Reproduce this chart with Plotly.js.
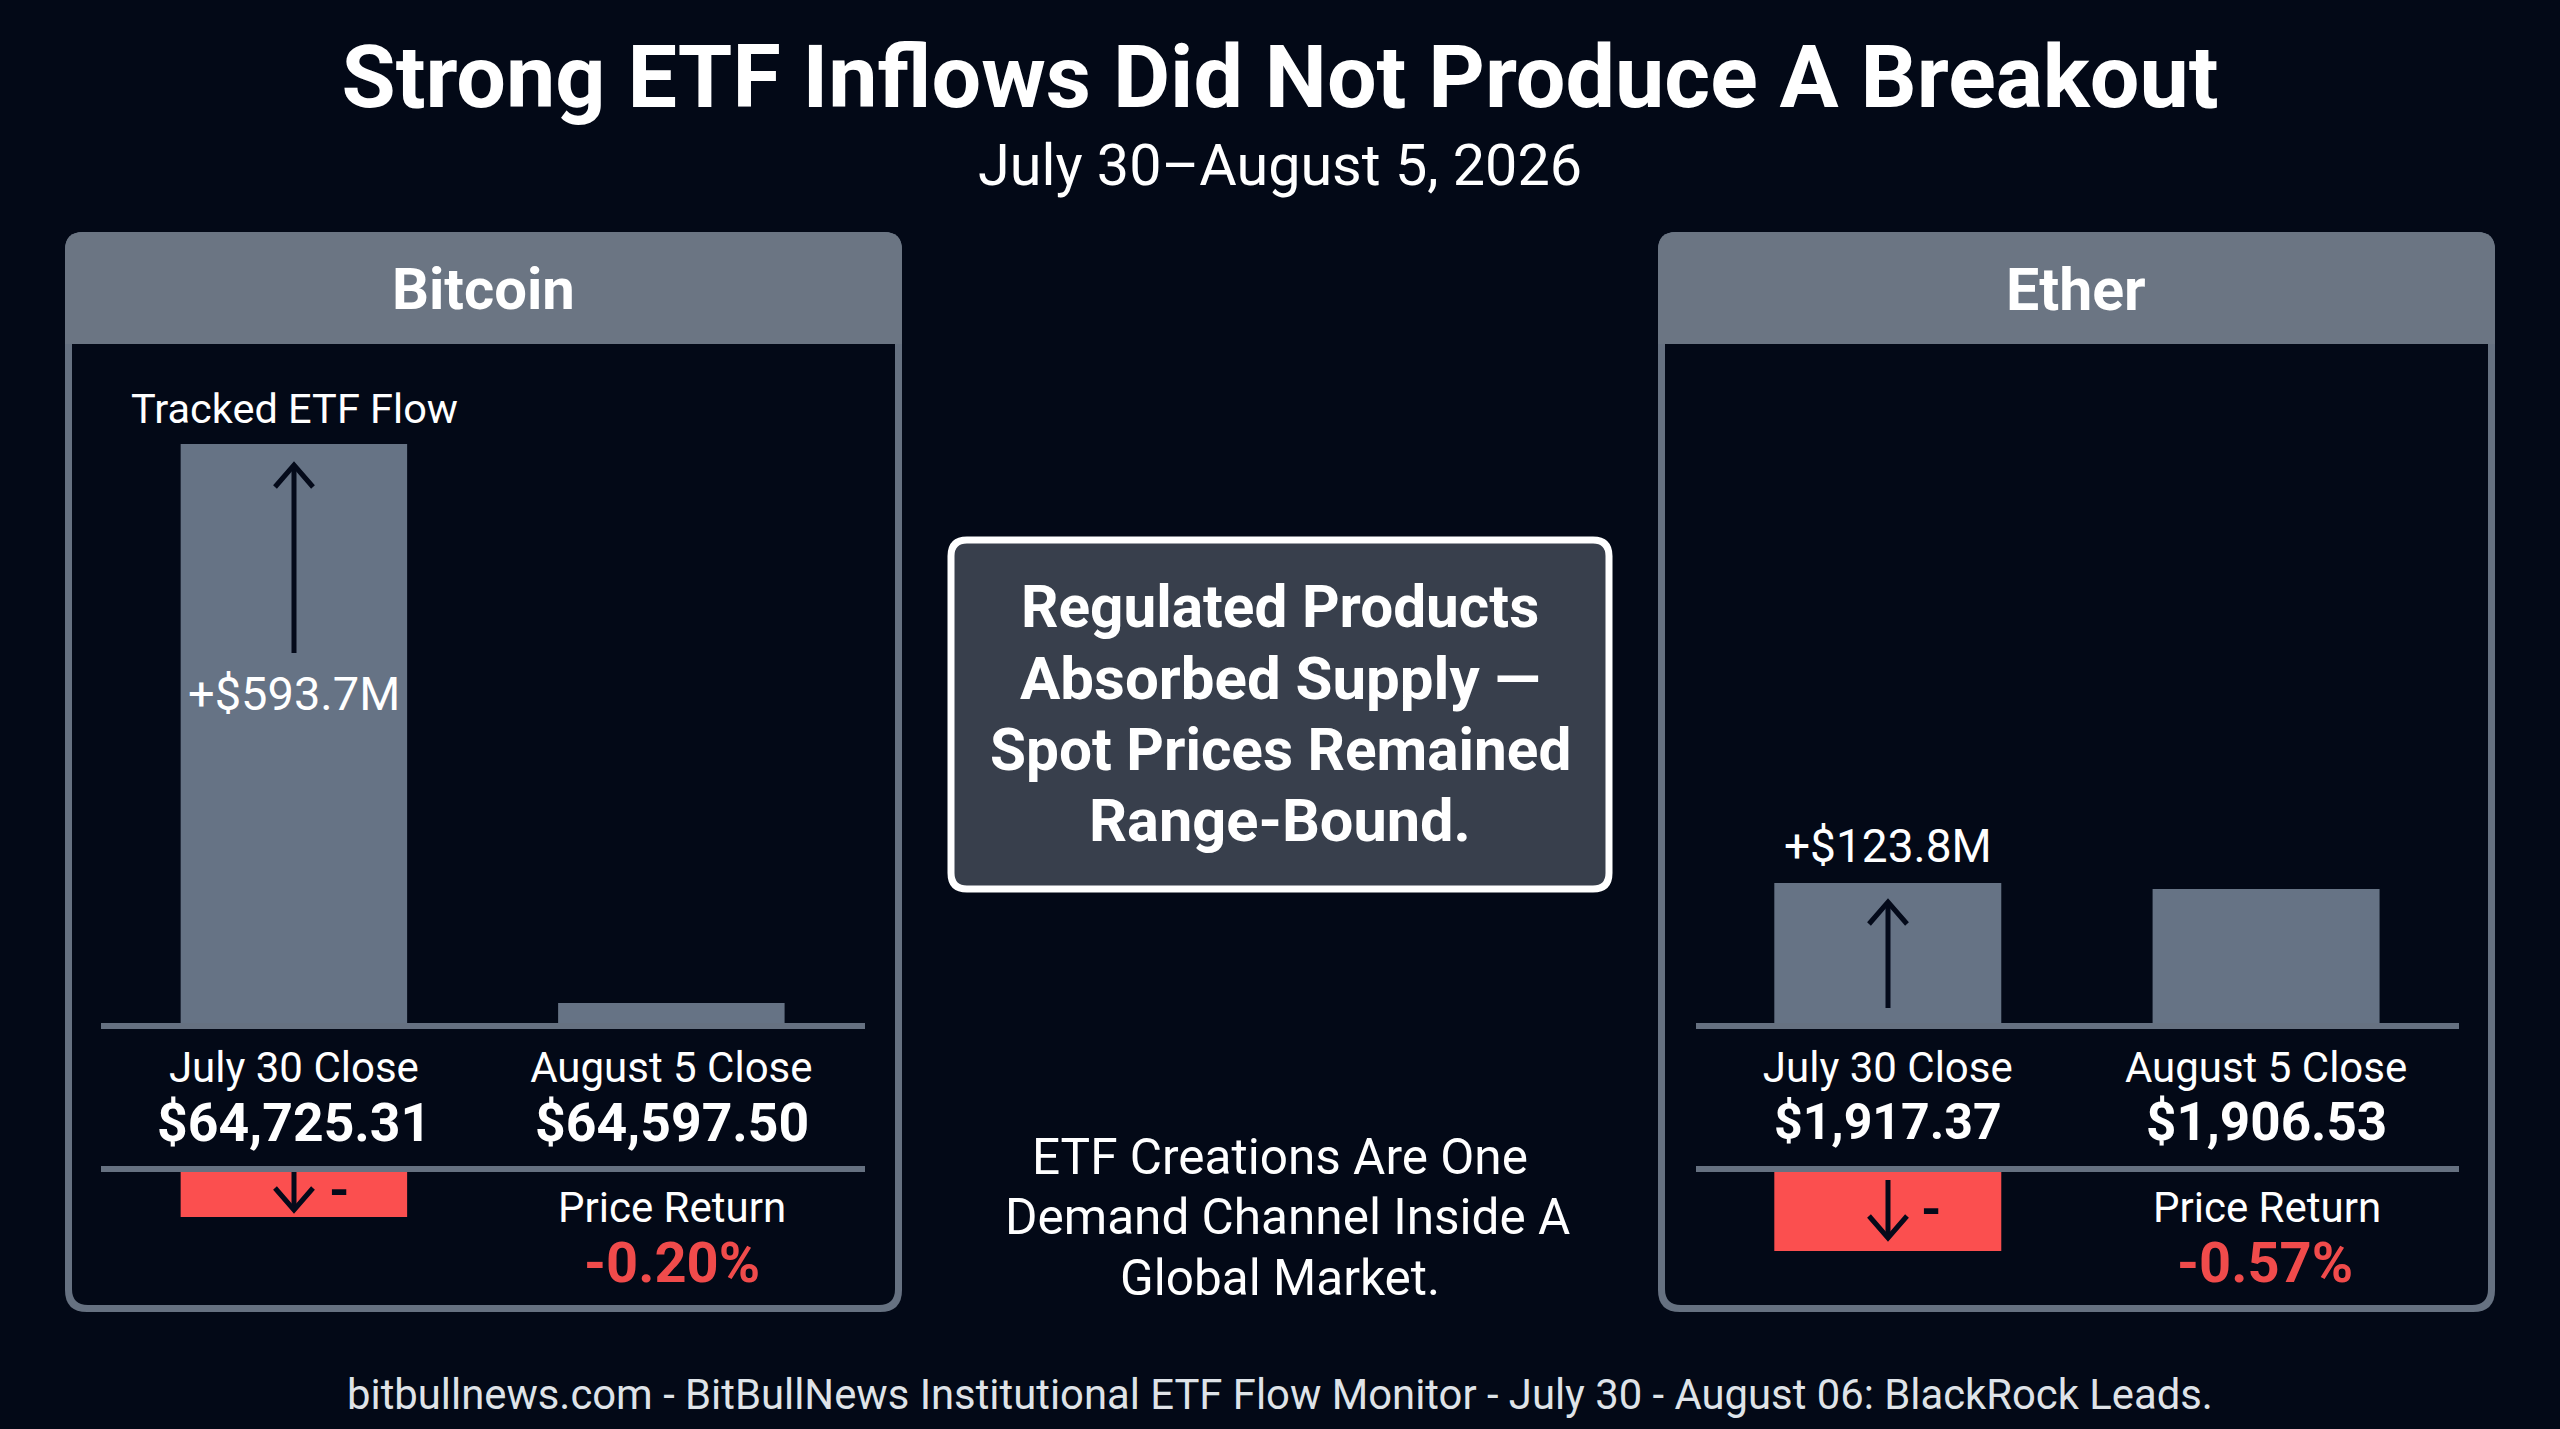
<!DOCTYPE html>
<html><head><meta charset="utf-8">
<script src="https://cdn.plot.ly/plotly-3.0.1.min.js"></script>
<style>html,body{margin:0;padding:0;background:#030917;overflow:hidden}</style></head>
<body><div id="chart" style="width:2560px;height:1429px"></div>
<script>
// ---------- data ----------
const closeLabels = ["July 30 Close", "August 5 Close"];
const btcFlow = [593.7, 20.5];
const ethFlow = [123.8, 118.5];
const btcReturnBar = [-0.20];
const ethReturnBar = [-0.57];
const btcCloses = ["$64,725.31", "$64,597.50"];
const ethCloses = ["$1,917.37", "$1,906.53"];
const btcFlowLabel = "+$593.7M";
const ethFlowLabel = "+$123.8M";
const btcReturnLabel = "-0.20%";
const ethReturnLabel = "-0.57%";
const titleText = "Strong ETF Inflows Did Not Produce A Breakout";
const subtitleText = "July 30–August 5, 2026";
const calloutLines = ["Regulated Products", "Absorbed Supply —", "Spot Prices Remained", "Range-Bound."];
const noteLines = ["ETF Creations Are One", "Demand Channel Inside A", "Global Market."];
const footerText = "bitbullnews.com - BitBullNews Institutional ETF Flow Monitor - July 30 - August 06: BlackRock Leads.";

// ---------- style ----------
const W = 2560, H = 1429;
const FONT = "Roboto";
const BG = "#030917", HEADER = "#6b7583", BORDER = "#667181", RED = "#fb4f4f", RETURN_RED = "#f04b4b", ARROW = "#040a1a", WHITE = "#ffffff";
const BAR_FILL = "#667385";
const px = x => x / W, py = y => 1 - y / H;

function xAxis(left, right, lo, hi, extra) {
  return Object.assign({
    domain: [px(left), px(right)], type: "category", categoryorder: "array", categoryarray: closeLabels,
    range: [lo, hi], showgrid: false, zeroline: false, showline: true, linecolor: BORDER, linewidth: 6,
    ticks: "", fixedrange: true
  }, extra);
}
function yAxis(top, bottom, lo, hi, anchor) {
  return { domain: [py(bottom), py(top)], range: [lo, hi], visible: false, fixedrange: true, anchor: anchor };
}
const flowTick = { showticklabels: true, ticklabelstandoff: 3, tickfont: { family: FONT, size: 42, color: WHITE } };
const retExtra = { showticklabels: false, side: "top" };

const traces = [
  { type: "bar", x: closeLabels, y: btcFlow, xaxis: "x", yaxis: "y", width: 0.6, marker: { color: BAR_FILL }, hoverinfo: "skip" },
  { type: "bar", x: closeLabels, y: ethFlow, xaxis: "x2", yaxis: "y2", width: 0.6, marker: { color: BAR_FILL }, hoverinfo: "skip" },
  { type: "bar", x: closeLabels.slice(0, 1), y: btcReturnBar, xaxis: "x3", yaxis: "y3", width: 0.6, marker: { color: RED }, hoverinfo: "skip" },
  { type: "bar", x: closeLabels.slice(0, 1), y: ethReturnBar, xaxis: "x4", yaxis: "y4", width: 0.6, marker: { color: RED }, hoverinfo: "skip" }
];

function roundedRect(x0, y0, x1, y1, rt, rb) {
  const X = px, Y = py;
  return `M${X(x0 + rt)},${Y(y0)} L${X(x1 - rt)},${Y(y0)} Q${X(x1)},${Y(y0)} ${X(x1)},${Y(y0 + rt)} ` +
    `L${X(x1)},${Y(y1 - rb)} Q${X(x1)},${Y(y1)} ${X(x1 - rb)},${Y(y1)} L${X(x0 + rb)},${Y(y1)} Q${X(x0)},${Y(y1)} ${X(x0)},${Y(y1 - rb)} ` +
    `L${X(x0)},${Y(y0 + rt)} Q${X(x0)},${Y(y0)} ${X(x0 + rt)},${Y(y0)} Z`;
}
const shape = (path, fill, line, lw, layer) => ({
  type: "path", xref: "paper", yref: "paper", path, fillcolor: fill || "rgba(0,0,0,0)",
  line: { color: line || "rgba(0,0,0,0)", width: lw || 0 }, layer: layer || "below"
});
function panel(x0, x1) {
  const t = 232, b = 1312, hb = 344, bw = 7;
  return [
    shape(roundedRect(x0, t, x1, b, 18, 22), BORDER),
    shape(roundedRect(x0, t, x1, hb, 18, 0), HEADER),
    shape(roundedRect(x0 + bw, hb, x1 - bw, b - bw, 0, 16), BG)
  ];
}
function arrow(cx, yFrom, yTip) {
  const dir = yTip < yFrom ? 1 : -1;
  const shaft = `M${px(cx)},${py(yFrom)} L${px(cx)},${py(yTip)}`;
  const head = `M${px(cx - 19)},${py(yTip + dir * 22)} L${px(cx)},${py(yTip)} L${px(cx + 19)},${py(yTip + dir * 22)}`;
  return [shape(shaft, null, ARROW, 5, "above"), shape(head, null, ARROW, 5, "above")];
}

const shapes = [
  ...panel(65, 902), ...panel(1658, 2495),
  shape(roundedRect(951, 540, 1609, 889, 16, 16), "#383f4c", WHITE, 7),
  ...arrow(294, 653, 465), ...arrow(294, 1172, 1210),
  ...arrow(1888, 1008, 902), ...arrow(1888, 1180, 1238)
];

const txt = (text, x, y, size, opts) => Object.assign({
  text, x: px(x), y: py(y), xref: "paper", yref: "paper", xanchor: "center", yanchor: "middle",
  showarrow: false, font: { family: FONT, size, color: WHITE, weight: 400 }
}, opts || {});
const bold = (size, color) => ({ font: { family: FONT, size, color: color || WHITE, weight: 700 } });
const calloutY = [607, 678, 750, 821];
const calloutSize = [58.5, 60, 58.5, 59.5];
const noteY = [1157, 1217, 1278];
const noteX = [1280, 1287, 1280];

const annotations = [
  txt(subtitleText, 1280, 165, 57.5),
  txt("Bitcoin", 483, 289, 58, bold(58)),
  txt("Ether", 2076, 289, 59, bold(59)),
  txt("Tracked ETF Flow", 294, 408, 41.5),
  txt(btcFlowLabel, 294, 693, 47),
  txt(ethFlowLabel, 1888, 846, 46),
  txt(btcCloses[0], 294, 1122, 53.5, bold(53.5)),
  txt(btcCloses[1], 671.5, 1122, 53.5, bold(53.5)),
  txt(ethCloses[0], 1888, 1122, 50, bold(50)),
  txt(ethCloses[1], 2266, 1122, 53, bold(53)),
  txt("Price Return", 671.5, 1207, 42),
  txt("Price Return", 2266.5, 1207, 42),
  txt(btcReturnLabel, 671.5, 1263, 56, bold(56, RETURN_RED)),
  txt(ethReturnLabel, 2265, 1263, 56, bold(56, RETURN_RED)),
  txt("-", 339, 1190, 52, bold(52, ARROW)),
  txt("-", 1931, 1209, 52, bold(52, ARROW)),
  ...calloutLines.map((s, i) => txt(s, 1280, calloutY[i], calloutSize[i], bold(calloutSize[i]))),
  ...noteLines.map((s, i) => txt(s, noteX[i], noteY[i], 49.5)),
  txt(footerText, 1280, 1394, 41.8, { font: { family: FONT, size: 41.8, color: "#dfe3e8", weight: 400 } })
];

const layout = {
  width: W, height: H, margin: { l: 0, r: 0, t: 0, b: 0, pad: 0 }, autosize: false,
  paper_bgcolor: BG, plot_bgcolor: "rgba(0,0,0,0)", showlegend: false, barmode: "overlay",
  title: { text: titleText, x: 0.5, xanchor: "center", xref: "paper", y: py(76), yref: "paper", yanchor: "middle",
           font: { family: FONT, size: 88, color: WHITE, weight: 700 } },
  xaxis: xAxis(101, 865, -0.511, 1.513, flowTick),
  xaxis2: xAxis(1696, 2459, -0.507, 1.51, flowTick),
  xaxis3: xAxis(101, 865, -0.511, 1.513, retExtra),
  xaxis4: xAxis(1696, 2459, -0.507, 1.51, retExtra),
  yaxis: yAxis(444, 1023, 0, 593.7, "x"),
  yaxis2: yAxis(883, 1023, 0, 123.8, "x2"),
  yaxis3: yAxis(1172, 1300, -0.569, 0, "x3"),
  yaxis4: yAxis(1172, 1300, -0.9235, 0, "x4"),
  shapes, annotations
};
layout.xaxis.anchor = "y"; layout.xaxis2.anchor = "y2"; layout.xaxis3.anchor = "y3"; layout.xaxis4.anchor = "y4";
Plotly.newPlot("chart", traces, layout, { staticPlot: true, displayModeBar: false });
</script></body></html>
